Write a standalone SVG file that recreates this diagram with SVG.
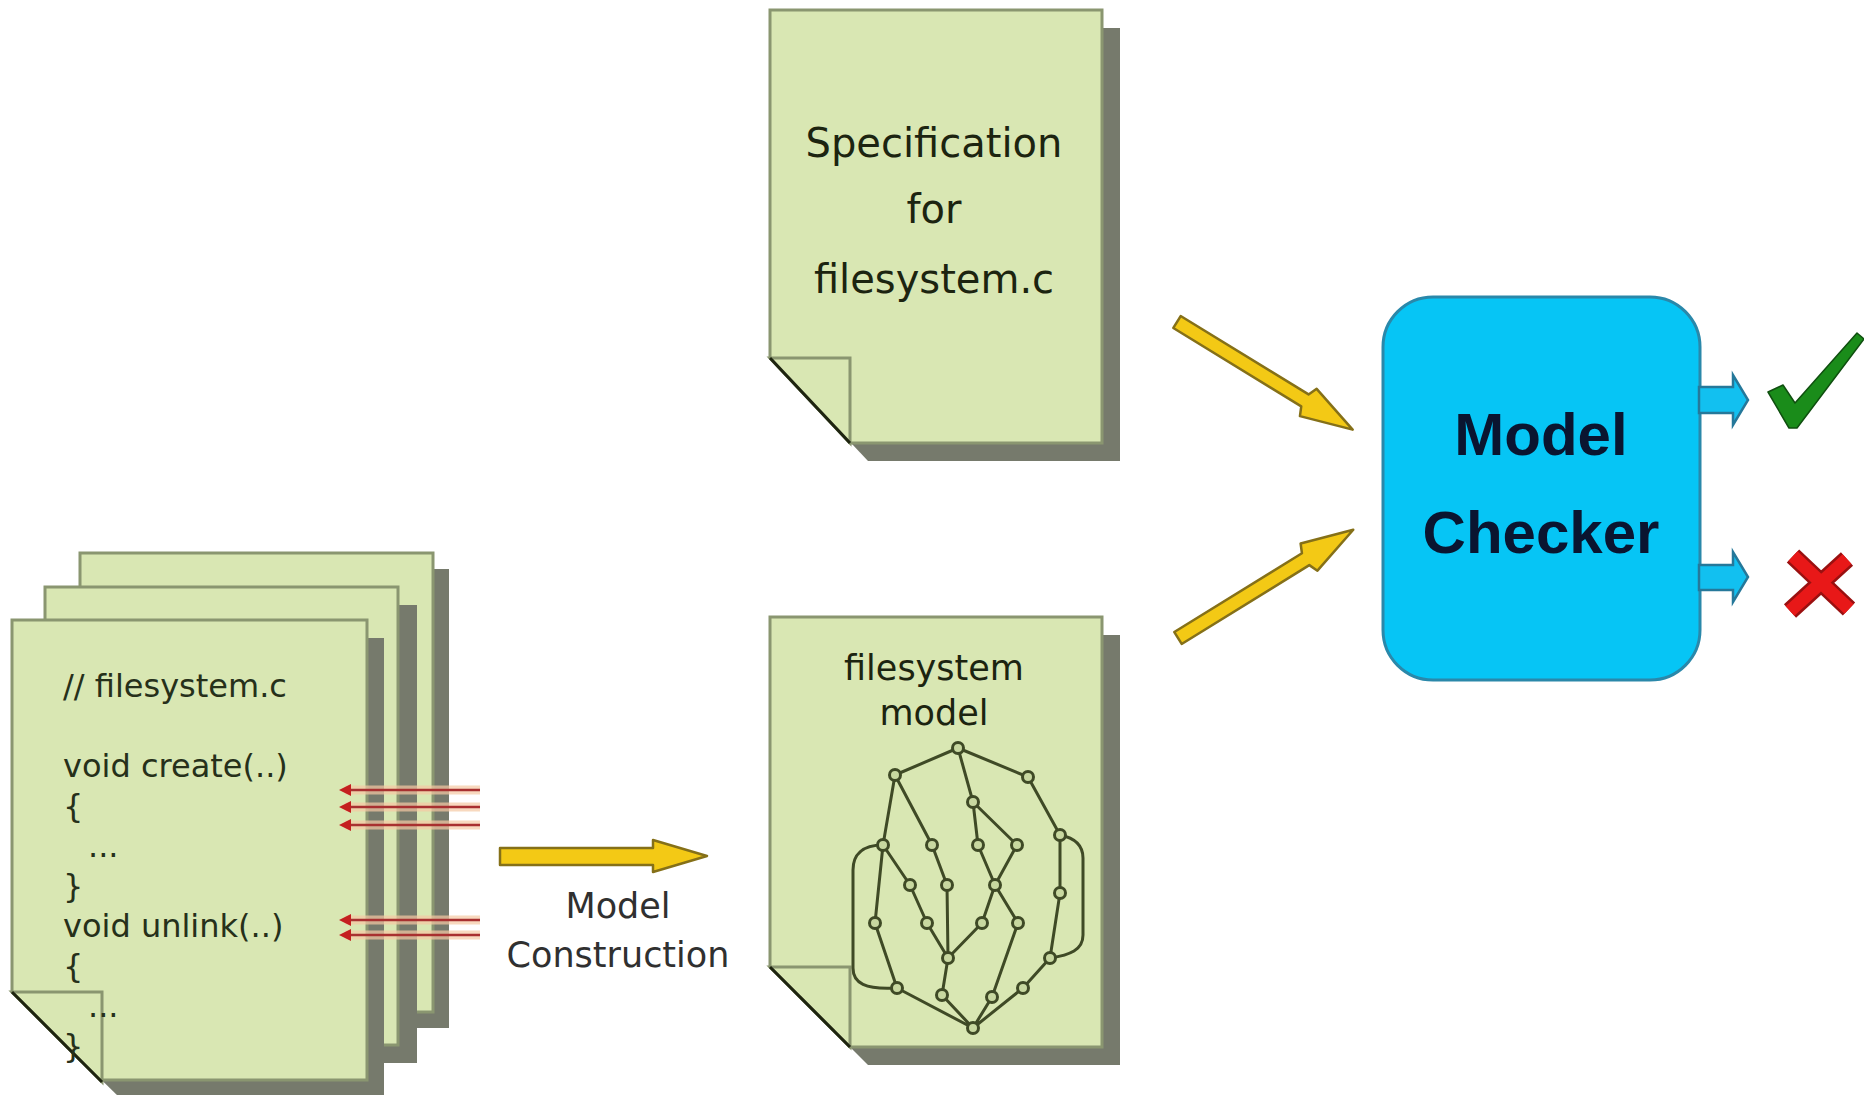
<svg xmlns="http://www.w3.org/2000/svg" width="1864" height="1095" viewBox="0 0 1864 1095">
<style>
.page{fill:#d9e7b3;stroke:#8a9670;stroke-width:3}
.shadow{fill:#767a6c}
.fold{fill:#d9e7b3;stroke:#8a9670;stroke-width:3}
.foldline{stroke:#1e2410;stroke-width:3}
.code{font-family:"DejaVu Sans",Verdana,sans-serif;font-size:32px;fill:#26301a}
.doc{font-family:"DejaVu Sans",Verdana,sans-serif;font-size:40px;fill:#1c2410;text-anchor:middle}
.mdoc{font-family:"DejaVu Sans",Verdana,sans-serif;font-size:35px;fill:#1c2410;text-anchor:middle}
.lbl{font-family:"DejaVu Sans",Verdana,sans-serif;font-size:35px;fill:#303030;text-anchor:middle}
.mc{font-family:"Liberation Sans",Arial,sans-serif;font-weight:bold;font-size:60px;fill:#0a1530;text-anchor:middle}
.yarrow{fill:#f3c915;stroke:#857018;stroke-width:2.5;stroke-linejoin:round}
.carrow{fill:#12c0f0;stroke:#25789a;stroke-width:2.5}
.edge{fill:none;stroke:#3f4a26;stroke-width:3}
.gn{fill:#c8d8a0;stroke:#3f4a26;stroke-width:3}
.red{stroke:#a83030;stroke-width:2.5}
.redhalo{stroke:#f6c9a4;stroke-width:9;opacity:0.7}
</style>

<g id="source-pages">
  <rect class="shadow" x="96" y="569" width="353" height="459"/>
  <rect class="page" x="80" y="553" width="353" height="459"/>
  <rect class="shadow" x="63" y="605" width="354" height="458"/>
  <rect class="page" x="45" y="587" width="353" height="458"/>
  <path d="M10,992 L104,1086 L10,1086 Z" fill="#ffffff"/>
  <path class="shadow" d="M30,638 H384 V1098 H120 L30,1010 Z"/>
  <path class="page" d="M12,620 H367 V1080 H102 L12,992 Z"/>
  <path class="fold" d="M12,992 H102 V1082 Z"/>
  <line class="foldline" x1="12" y1="992" x2="102" y2="1082"/>
  <text class="code" x="63" y="697">// filesystem.c</text>
  <text class="code" x="63" y="777">void create(..)</text>
  <text class="code" x="63" y="817">{</text>
  <text class="code" x="88" y="857">...</text>
  <text class="code" x="63" y="897">}</text>
  <text class="code" x="63" y="937">void unlink(..)</text>
  <text class="code" x="63" y="977">{</text>
  <text class="code" x="88" y="1017">...</text>
  <text class="code" x="63" y="1057">}</text>
</g>

<g id="spec">
  <path class="shadow" d="M788,28 H1120 V461 H868 L788,376 Z"/>
  <path class="page" d="M770,10 H1102 V443 H850 L770,358 Z"/>
  <path class="fold" d="M770,358 H850 V443 Z"/>
  <line class="foldline" x1="770" y1="358" x2="850" y2="443"/>
  <text class="doc" x="934" y="157">Specification</text>
  <text class="doc" x="934" y="223">for</text>
  <text class="doc" x="934" y="293">filesystem.c</text>
</g>

<g id="model">
  <path class="shadow" d="M788,635 H1120 V1065 H868 L788,985 Z"/>
  <path class="page" d="M770,617 H1102 V1047 H850 L770,967 Z"/>
  <path class="fold" d="M770,967 H850 V1047 Z"/>
  <line class="foldline" x1="770" y1="967" x2="850" y2="1047"/>
  <text class="mdoc" x="934" y="680">filesystem</text>
  <text class="mdoc" x="934" y="725">model</text>
  <g id="graph">
    <path class="edge" d="M958,748 L895,775 M958,748 L1028,777 M958,748 L973,802
      M895,775 L883,845 M895,775 L932,845 M973,802 L978,845 M973,802 L1017,845
      M883,845 L910,885 M883,845 L875,923 M932,845 L947,885 M978,845 L995,885 M1017,845 L995,885
      M910,885 L927,923 M947,885 L948,958 M995,885 L982,923 M995,885 L1018,923
      M927,923 L948,958 M982,923 L948,958 M875,923 L897,988 M1018,923 L992,997
      M948,958 L942,995 M897,988 L973,1028 M942,995 L973,1028 M992,997 L973,1028 M1023,988 L973,1028
      M1028,777 L1060,835 M1060,835 L1060,893 M1060,893 L1050,958 M1050,958 L1023,988
      M883,845 C862,845 853,855 853,870 L853,968 C853,983 865,990 897,988
      M1060,835 C1075,838 1083,845 1083,858 L1083,935 C1083,950 1070,955 1050,958"/>
    <g>
      <circle class="gn" cx="958" cy="748" r="5.5"/>
      <circle class="gn" cx="895" cy="775" r="5.5"/>
      <circle class="gn" cx="1028" cy="777" r="5.5"/>
      <circle class="gn" cx="973" cy="802" r="5.5"/>
      <circle class="gn" cx="883" cy="845" r="5.5"/>
      <circle class="gn" cx="932" cy="845" r="5.5"/>
      <circle class="gn" cx="978" cy="845" r="5.5"/>
      <circle class="gn" cx="1017" cy="845" r="5.5"/>
      <circle class="gn" cx="1060" cy="835" r="5.5"/>
      <circle class="gn" cx="910" cy="885" r="5.5"/>
      <circle class="gn" cx="947" cy="885" r="5.5"/>
      <circle class="gn" cx="995" cy="885" r="5.5"/>
      <circle class="gn" cx="1060" cy="893" r="5.5"/>
      <circle class="gn" cx="875" cy="923" r="5.5"/>
      <circle class="gn" cx="927" cy="923" r="5.5"/>
      <circle class="gn" cx="982" cy="923" r="5.5"/>
      <circle class="gn" cx="1018" cy="923" r="5.5"/>
      <circle class="gn" cx="948" cy="958" r="5.5"/>
      <circle class="gn" cx="1050" cy="958" r="5.5"/>
      <circle class="gn" cx="897" cy="988" r="5.5"/>
      <circle class="gn" cx="942" cy="995" r="5.5"/>
      <circle class="gn" cx="992" cy="997" r="5.5"/>
      <circle class="gn" cx="1023" cy="988" r="5.5"/>
      <circle class="gn" cx="973" cy="1028" r="5.5"/>
    </g>
  </g>
</g>

<g id="model-checker">
  <rect x="1383" y="297" width="317" height="383" rx="50" ry="50" fill="#06c5f5" stroke="#2a88aa" stroke-width="3"/>
  <text class="mc" x="1541" y="455">Model</text>
  <text class="mc" x="1541" y="553">Checker</text>
</g>

<g id="ok">
  <path d="M1768,392 L1783,385 L1795,403 L1857,333 L1864,339 L1797,428 L1789,428 Z" fill="#1a8c1a" stroke="#0f4f0f" stroke-width="1.5" stroke-linejoin="round"/>
</g>

<g id="fail">
  <path d="M1793,556 L1849,609 M1847,559 L1790,611" stroke="#9a1010" stroke-width="18"/>
  <path d="M1793,556 L1849,609 M1847,559 L1790,611" stroke="#e81818" stroke-width="13"/>
</g>

<g id="connectors">
  <g id="red-links">
    <path class="redhalo" d="M345,790 H480 M345,807 H480 M345,825 H480 M345,920 H480 M345,935 H480"/>
    <path class="red" d="M347,790 H480 M347,807 H480 M347,825 H480 M347,920 H480 M347,935 H480"/>
    <g fill="#c42020">
      <path d="M339,790 L351,784 L351,796 Z"/>
      <path d="M339,807 L351,801 L351,813 Z"/>
      <path d="M339,825 L351,819 L351,831 Z"/>
      <path d="M339,920 L351,914 L351,926 Z"/>
      <path d="M339,935 L351,929 L351,941 Z"/>
    </g>
  </g>
  <polygon class="yarrow" points="500,848 653,848 653,840 707,856 653,872 653,865 500,865"/>
  <text class="lbl" x="618" y="918">Model</text>
  <text class="lbl" x="618" y="967">Construction</text>
  <polygon class="yarrow" transform="translate(1177,322) rotate(31.5)" points="0,-7 150,-7 154,-16 206,0 154,16 150,7 0,7"/>
  <polygon class="yarrow" transform="translate(1178,638) rotate(-31.7)" points="0,-7 150,-7 154,-16 206,0 154,16 150,7 0,7"/>
  <polygon class="carrow" points="1699,387 1733,387 1733,375 1748,400 1733,425 1733,413 1699,413"/>
  <polygon class="carrow" points="1699,565 1733,565 1733,552 1748,577 1733,602 1733,590 1699,590"/>
</g>
</svg>
